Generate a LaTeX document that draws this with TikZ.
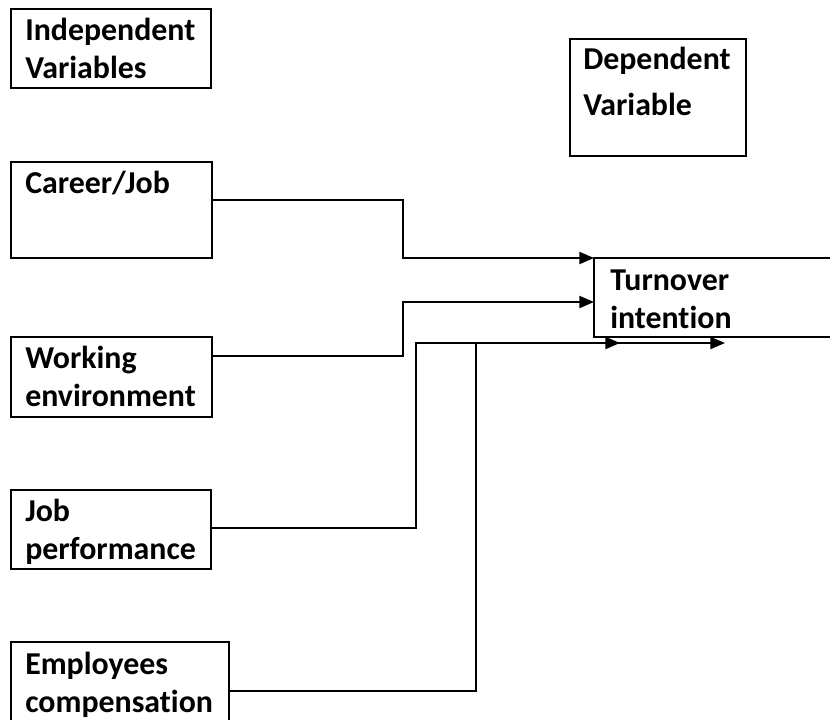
\documentclass[tikz,border=0pt]{standalone}
\usepackage{fontspec}
\setmainfont{Carlito}[Ligatures=NoCommon]
\usetikzlibrary{arrows.meta}
\begin{document}
\begin{tikzpicture}[x=0.75pt,y=-0.75pt,
  box/.style={draw,line width=1.5pt,rectangle,inner sep=0pt,outer sep=0pt,anchor=north west},
  lbl/.style={anchor=base west,inner sep=0pt,font=\fontsize{23.9}{28}\selectfont\bfseries},
  conn/.style={line width=1.5pt},
  arr/.style={conn,-{Triangle[length=11pt,width=9pt]}}]
\useasboundingbox (0,0) rectangle (830,719);
\clip (0,0) rectangle (830,719);
% boxes
\node[box,minimum width=150pt,minimum height=59.25pt] (indep) at (11,9) {};
\node[box,minimum width=132pt,minimum height=87.75pt] (dep) at (570,39) {};
\node[box,minimum width=150.75pt,minimum height=72pt] (career) at (11,162) {};
\node[box,minimum width=150.75pt,minimum height=60pt] (work) at (11,337) {};
\node[box,minimum width=150pt,minimum height=59.25pt] (jobp) at (11,490) {};
\node[box,minimum width=163.5pt,minimum height=66pt] (emp) at (11,642) {};
\node[box,minimum width=190pt,minimum height=59.25pt] (turn) at (594,258) {};
% labels
\node[lbl] (t1) at (25,40) {Independent};
\node[lbl] (t2) at (25,78) {Variables};
\node[lbl] (t3) at (583,69) {Dependent};
\node[lbl] (t4) at (583,115) {Variable};
\node[lbl] (t5) at (25,193) {Career/Job};
\node[lbl] (t6) at (25,368) {Working};
\node[lbl] (t7) at (25,406) {environment};
\node[lbl] (t8) at (25,521) {Job};
\node[lbl] (t9) at (25,559) {performance};
\node[lbl] (t10) at (25,674) {Employees};
\node[lbl] (t11) at (25,712) {compensation};
\node[lbl] (t12) at (610,290) {Turnover};
\node[lbl] (t13) at (610,328) {intention};
% connector coordinates
\coordinate (c1) at (403,200);
\coordinate (c2) at (403,258);
\coordinate (w1) at (403,356);
\coordinate (w2) at (403,302);
\coordinate (j1) at (416,528);
\coordinate (j2) at (416,343);
\coordinate (j3) at (620,343);
\coordinate (e1) at (476,691);
\coordinate (e2) at (476,343);
\coordinate (e3) at (725,343);
% connectors
\draw[arr] (career.east |- c1) -- (c1) -- (c2) -- (turn.west |- c2);
\draw[arr] (work.east |- w1) -- (w1) -- (w2) -- (turn.west |- w2);
\draw[arr] (jobp.east |- j1) -- (j1) -- (j2) -- (j3);
\draw[arr] (emp.east |- e1) -- (e1) -- (e2) -- (e3);
\end{tikzpicture}
\end{document}
